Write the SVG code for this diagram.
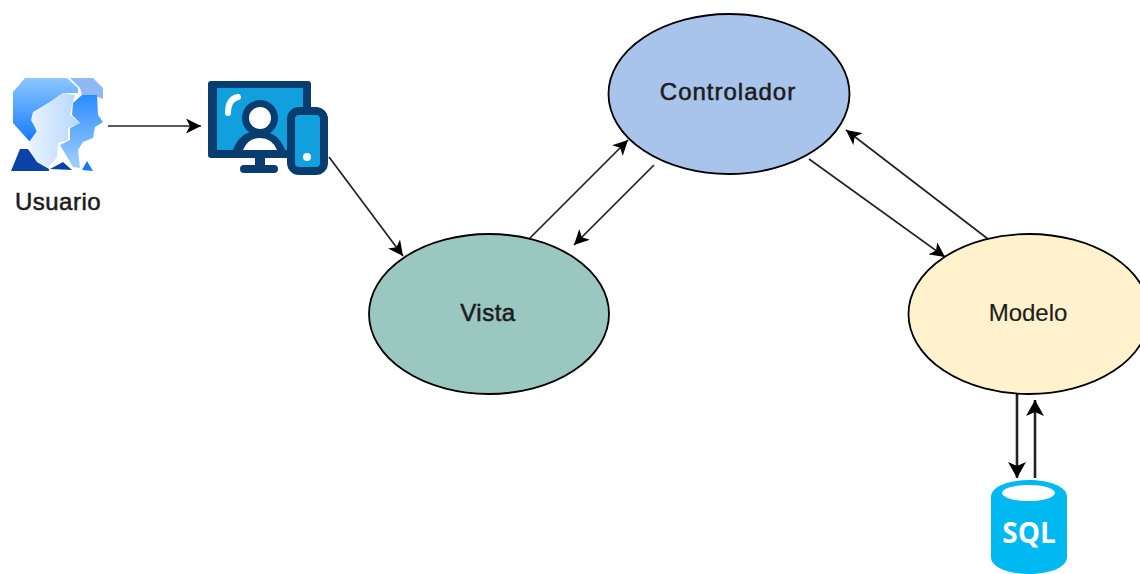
<svg xmlns="http://www.w3.org/2000/svg" width="1140" height="574" viewBox="0 0 1140 574">
<style>
text{font-family:"Liberation Sans",Arial,sans-serif;font-size:24px;fill:#1c1c1c;text-anchor:middle;stroke:#1c1c1c;stroke-width:.55px;letter-spacing:.5px}
.e{stroke:#000;stroke-width:1.8}
.c{fill:none;stroke:#222;stroke-width:1.7;marker-end:url(#a)}
.t{fill:none;stroke:#222;stroke-width:2.6;marker-end:url(#g)}
.n{fill:#0a3d6f}
</style>
<defs>
<marker id="a" markerUnits="userSpaceOnUse" markerWidth="17" markerHeight="15" refX="15" refY="7.500" orient="auto"><path d="M0 0L15 7.500L0 15L4 7.500Z" fill="#000"/></marker>
<marker id="g" markerUnits="userSpaceOnUse" markerWidth="17" markerHeight="18" refX="16" refY="9" orient="auto"><path d="M0 0L16 9L0 18L4 9Z" fill="#000"/></marker>
<linearGradient id="b1" x1="0" y1="0" x2="0" y2="1"><stop offset="0" stop-color="#8cc8ff"/><stop offset="1" stop-color="#1479ff"/></linearGradient>
<linearGradient id="b2" x1="0" y1="0" x2="1" y2="0"><stop offset="0" stop-color="#eaf4ff"/><stop offset="1" stop-color="#b4d6fb"/></linearGradient>
<linearGradient id="b3" x1="0" y1="0" x2="0" y2="1"><stop offset="0" stop-color="#2a8cff"/><stop offset="1" stop-color="#a5d0ff"/></linearGradient>
</defs>
<g id="connectors">
<path class="c" d="M108 126H201"/>
<path class="c" d="M329 157L403 256"/>
<path class="c" d="M529 239L628 140"/>
<path class="c" d="M654 165L574 245"/>
<path class="c" d="M809 159L945 257"/>
<path class="c" d="M988 239L846 130"/>
<path class="t" d="M1017 394V478"/>
<path class="t" d="M1035 478V400"/>
</g>
<g id="usuario">
<path fill="#8fb8f5" d="M70 78H93L103 88V99L93 95H82L80 88Z"/>
<path fill="url(#b1)" d="M25 78H67L78 88V93H63L50 102L33 113L32 120L37 132L30 142L13 123V92Z"/>
<path fill="url(#b2)" d="M63 93L75 95L72 105L70 115L80 123L68 128V140L58 143L57 157L48 168L33 158L29 142L37 131L31 120L33 112L50 102Z"/>
<path fill="url(#b3)" d="M82 95H97L98 115L103 122L95 127L93 138L83 142L78 150L80 168L73 167L60 145L70 140V128L80 123L72 115L73 103Z"/>
<path fill="#0c43a8" d="M20 149H28L37 162L49 169V171H11Z"/>
<path fill="#0c43a8" d="M50 169L63 162L72 170Z"/>
<path fill="#1479ff" d="M82 170L87 161L93 171Z"/>
<text x="58" y="210">Usuario</text>
</g>
<g id="dispositivos">
<rect class="n" x="208" y="81" width="103" height="77" rx="3"/>
<rect x="217" y="88" width="86" height="62" fill="#119fde"/>
<path d="M238 97Q228 99 228 113" fill="none" stroke="#fff" stroke-width="6" stroke-linecap="round"/>
<path class="n" d="M233 150Q240 131 259 131Q278 131 285 150Z"/>
<path d="M243 150Q248 138 260 138Q272 138 277 150Z" fill="#fff"/>
<circle cx="260" cy="118" r="14.500" fill="#fff" stroke="#0a3d6f" stroke-width="7"/>
<rect class="n" x="255" y="158" width="10" height="8"/>
<rect class="n" x="240" y="165" width="38" height="8" rx="4"/>
<rect x="291" y="111" width="33" height="60" rx="8" fill="#119fde" stroke="#0a3d6f" stroke-width="8"/>
<circle cx="307" cy="157" r="4" fill="#fff"/>
</g>
<g id="controlador">
<ellipse class="e" cx="729" cy="94" rx="120.500" ry="80" fill="#a9c4eb"/>
<text x="728" y="100" style="letter-spacing:1px">Controlador</text>
</g>
<g id="vista">
<ellipse class="e" cx="489" cy="314" rx="120" ry="80" fill="#9ac7bf"/>
<text x="488" y="321">Vista</text>
</g>
<g id="modelo">
<ellipse class="e" cx="1029" cy="314" rx="120.500" ry="80" fill="#fff2cc"/>
<text x="1028" y="321" style="letter-spacing:0;stroke-width:.15px">Modelo</text>
</g>
<g id="sql">
<path fill="#00b9f1" d="M991 497C991 486 1010 480 1029 480C1048 480 1067 486 1067 497V557C1067 568 1048 574 1029 574C1010 574 991 568 991 557Z"/>
<ellipse cx="1028.500" cy="493" rx="26.500" ry="8" fill="#fff"/>
<text x="1029" y="543" style="font-family:'Open Sans','Liberation Sans',sans-serif;font-size:28px;font-weight:bold;fill:#fff;stroke:none;letter-spacing:0">SQL</text>
</g>
</svg>
